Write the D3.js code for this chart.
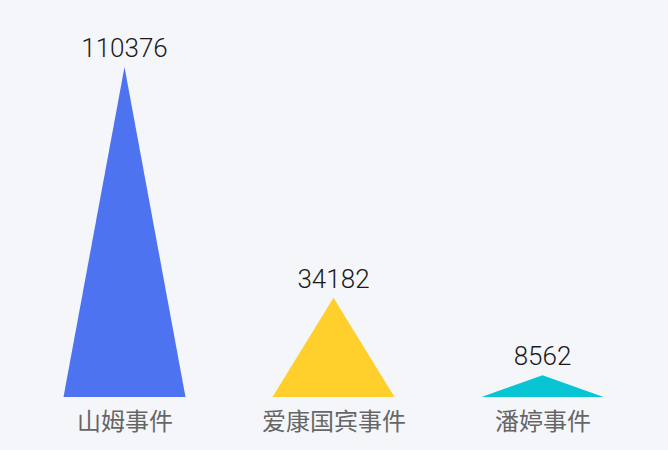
<!DOCTYPE html>
<html>
<head>
<meta charset="utf-8">
<script src="https://cdn.jsdelivr.net/npm/d3@7"></script>
<style>
  html, body { margin: 0; padding: 0; background: #f5f6fa; }
  svg { display: block; }
</style>
</head>
<body>
<div class="chart"></div>
<script>
var categories = ["山姆事件", "爱康国宾事件", "潘婷事件"];
var values = [110376, 34182, 8562];
var colors = ["#4e73f0", "#ffcf2c", "#07c5d2"];

var width = 668, height = 450;
var baseY = 397, topY = 67;
var barWidth = 122;

var svg = d3.select(".chart").append("svg")
    .attr("width", width)
    .attr("height", height);

svg.append("rect")
    .attr("width", width)
    .attr("height", height)
    .attr("fill", "#f5f6fa");

var x = d3.scalePoint()
    .domain(categories)
    .range([20, 647])
    .padding(0.5);

var y = d3.scaleLinear()
    .domain([1400, d3.max(values)])
    .range([baseY, topY]);

var data = categories.map(function (c, i) {
    return { name: c, value: values[i], color: colors[i] };
});

// triangle bars
svg.selectAll(".bar")
    .data(data)
    .enter().append("path")
    .attr("class", "bar")
    .attr("fill", function (d) { return d.color; })
    .attr("d", function (d) {
        var cx = x(d.name);
        return "M" + (cx - barWidth / 2) + "," + baseY +
            "L" + cx + "," + y(d.value) +
            "L" + (cx + barWidth / 2) + "," + baseY + "Z";
    });

// value labels
svg.selectAll(".val")
    .data(data)
    .enter().append("text")
    .attr("class", "val")
    .attr("x", function (d) { return x(d.name); })
    .attr("y", function (d) { return y(d.value) - 10; })
    .attr("text-anchor", "middle")
    .attr("font-family", "Roboto, Liberation Sans, sans-serif")
    .attr("font-weight", 300)
    .attr("font-size", 26)
    .attr("fill", "#1a1a1a")
    .text(function (d) { return d.value; });

// category axis
var xAxis = d3.axisBottom(x).tickSize(0).tickPadding(16);
var gx = svg.append("g")
    .attr("transform", "translate(0," + baseY + ")")
    .call(xAxis);
gx.select(".domain").remove();
gx.selectAll("text")
    .attr("font-family", "Noto Sans CJK SC, sans-serif")
    .attr("font-size", 24)
    .attr("fill", "#666666");
</script>
</body>
</html>
